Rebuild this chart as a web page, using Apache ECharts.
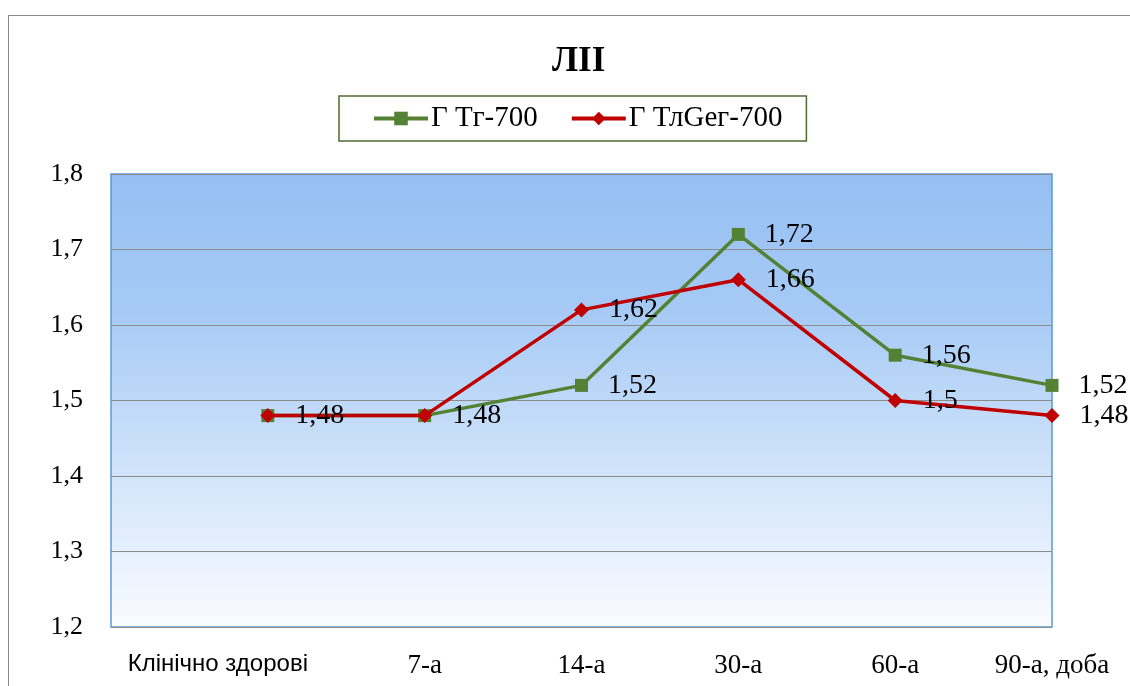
<!DOCTYPE html>
<html>
<head>
<meta charset="utf-8">
<script src="https://cdn.jsdelivr.net/npm/echarts@6/dist/echarts.min.js"></script>
<style>
  html, body { margin: 0; padding: 0; width: 1130px; height: 686px; overflow: hidden; background: #ffffff; }
  #frame { position: absolute; left: 8px; top: 15px; width: 1200px; height: 800px; border: 1px solid #8a8a8a; box-sizing: border-box; }
  #chart { position: absolute; left: 0; top: 0; width: 1130px; height: 686px; }
</style>
</head>
<body>
<div id="frame"></div>
<div id="chart"></div>
<script>
// Time points along the horizontal axis
const categories = ['Клінічно здорові', '7-а', '14-а', '30-а', '60-а', '90-а, доба'];
// Series values
const seriesTg = [1.48, 1.48, 1.52, 1.72, 1.56, 1.52];
const seriesTlGeg = [1.48, 1.48, 1.62, 1.66, 1.50, 1.48];
const seriesNames = ['Г Тг-700', 'Г ТлGeг-700'];
const titleText = 'ЛІІ';

const serif = '"Liberation Serif", "DejaVu Serif", serif';
const fmt = v => String(v).replace('.', ',');

const GREEN = '#548235';
const RED = '#c00000';

const labelStyle = {
  show: true,
  position: 'right',
  distance: 20,
  color: '#000000',
  fontFamily: serif,
  fontSize: 28,
  formatter: p => fmt(p.value[1])
};

// Where both series share a value, only one label is drawn for that point
function pairs(arr, other) {
  return arr.map((v, i) => {
    const item = { value: [i, v] };
    if (other && other[i] === v) item.label = { show: false };
    return item;
  });
}

const chart = echarts.init(document.getElementById('chart'), null, { renderer: 'canvas' });
chart.setOption({
  backgroundColor: 'transparent',
  animation: false,
  title: {
    text: titleText,
    left: 547,
    top: 39,
    textStyle: { fontFamily: serif, fontWeight: 'bold', fontSize: 35, color: '#000000' }
  },
  legend: {
    top: 96,
    left: 339,
    data: [
      { name: seriesNames[0], itemStyle: { color: GREEN }, lineStyle: { color: GREEN, width: 4 } },
      { name: seriesNames[1], itemStyle: { color: RED }, lineStyle: { color: RED, width: 4 } }
    ],
    itemWidth: 54,
    itemHeight: 17,
    itemGap: 32,
    borderColor: '#4f6b2f',
    borderWidth: 1.5,
    padding: [8, 24, 8, 33],
    textStyle: { fontFamily: serif, fontSize: 29, color: '#000000', padding: [0, 0, 0, -2] }
  },
  grid: {
    left: 111, right: 78, top: 174, bottom: 59,
    show: true,
    borderColor: '#5b9bd5',
    borderWidth: 1.5,
    backgroundColor: new echarts.graphic.LinearGradient(0, 0, 0, 1, [
      { offset: 0, color: '#95bff2' },
      { offset: 0.3, color: '#a6caf5' },
      { offset: 1, color: '#fafcff' }
    ])
  },
  xAxis: {
    type: 'value',
    min: -1, max: 5, interval: 1,
    axisLine: { show: false },
    axisTick: { show: false },
    splitLine: { show: false },
    axisLabel: {
      margin: 25,
      color: '#000000',
      fontFamily: serif,
      fontSize: 27,
      showMinLabel: false,
      formatter: v => {
        if (v === 0) return '{first|' + categories[0] + '}';
        return categories[v] !== undefined ? categories[v] : '';
      },
      rich: {
        first: {
          fontFamily: '"Liberation Sans Narrow", "Liberation Sans", "DejaVu Sans", sans-serif',
          fontSize: 24,
          color: '#000000',
          padding: [0, 100, 0, 0]
        }
      }
    }
  },
  yAxis: {
    type: 'value',
    min: 1.2, max: 1.8, interval: 0.1,
    axisLine: { show: false },
    axisTick: { show: false },
    splitLine: { show: true, lineStyle: { color: '#8c8c8c', width: 1.2 } },
    axisLabel: {
      margin: 28,
      color: '#000000',
      fontFamily: serif,
      fontSize: 26,
      formatter: v => fmt(v.toFixed(1))
    }
  },
  series: [
    {
      name: seriesNames[0],
      type: 'line',
      data: pairs(seriesTg, seriesTlGeg),
      symbol: 'rect',
      symbolSize: 13,
      itemStyle: { color: GREEN },
      lineStyle: { color: GREEN, width: 3.5 },
      label: labelStyle,
      z: 2
    },
    {
      name: seriesNames[1],
      type: 'line',
      data: pairs(seriesTlGeg),
      symbol: 'diamond',
      symbolSize: 15,
      itemStyle: { color: RED },
      lineStyle: { color: RED, width: 3.5 },
      label: labelStyle,
      z: 3
    }
  ]
});
</script>
</body>
</html>
